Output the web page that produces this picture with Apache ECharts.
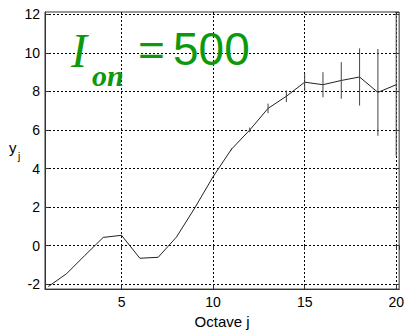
<!DOCTYPE html>
<html>
<head>
<meta charset="utf-8">
<script src="https://cdn.jsdelivr.net/npm/echarts@6/dist/echarts.min.js"></script>
<style>
  html, body { margin: 0; padding: 0; background: #fff; }
  #chart { width: 407px; height: 334px; }
</style>
</head>
<body>
<div id="chart"></div>
<script>
// Octave index j
const octave = [1, 2, 3, 4, 5, 6, 7, 8, 9, 10, 11, 12, 13, 14, 15, 16, 17, 18, 19, 20];
// Log-scale energy y_j per octave
const yj = [-2.12, -1.45, -0.5, 0.43, 0.54, -0.65, -0.6, 0.45, 1.96, 3.58,
            5.0, 6.0, 7.12, 7.75, 8.48, 8.35, 8.57, 8.75, 7.95, 8.35];
// Half-width of the confidence interval at each octave
const halfCI = [0, 0, 0, 0, 0, 0, 0, 0, 0, 0,
                0.05, 0.12, 0.25, 0.3, 0.45, 0.65, 0.95, 1.48, 2.25, 3.7];

const xRange = [0.82, 20.16];
const yRange = [-2.25, 12.12];

const lineData = octave.map((j, i) => [j, yj[i]]);
const barData = octave.map((j, i) => [j, yj[i] - halfCI[i], yj[i] + halfCI[i]]);

const GREEN = '#0c990c';
const INK = '#222';
const labelFont = { fontFamily: 'Liberation Sans, Arial, sans-serif', fontSize: 14, color: '#000' };

const grid = { left: 45, right: 4, top: 12, bottom: 40, show: true, borderColor: '#333', borderWidth: 1, backgroundColor: '#fff' };

const gridLine = { show: true, showMinLine: false, showMaxLine: false, lineStyle: { color: '#000', type: [2, 2], width: 1 } };
const intLabel = v => (Math.abs(v - Math.round(v)) < 1e-9 ? String(v) : '');

const chart = echarts.init(document.getElementById('chart'), null, { renderer: 'svg' });
chart.setOption({
  animation: false,
  grid: grid,
  xAxis: [
    {
      type: 'value', min: xRange[0], max: xRange[1], splitNumber: 4, position: 'bottom',
      axisLine: { show: true, onZero: false, lineStyle: { color: '#333', width: 1 } },
      axisTick: { show: true, inside: true, length: 4, lineStyle: { color: '#333' } },
      axisLabel: Object.assign({ margin: 6, showMinLabel: false, showMaxLabel: false, formatter: intLabel }, labelFont),
      splitLine: gridLine,
      name: 'Octave j', nameLocation: 'middle', nameGap: 24,
      nameTextStyle: { fontFamily: 'Liberation Sans, Arial, sans-serif', fontSize: 15, color: '#000' }
    },
    {
      type: 'value', min: xRange[0], max: xRange[1], splitNumber: 4, position: 'top',
      axisLine: { show: false },
      axisTick: { show: true, inside: true, length: 4, lineStyle: { color: '#333' } },
      axisLabel: { show: false }, splitLine: { show: false }
    }
  ],
  yAxis: [
    {
      type: 'value', min: yRange[0], max: yRange[1], splitNumber: 7, position: 'left',
      axisLine: { show: true, onZero: false, lineStyle: { color: '#333', width: 1 } },
      axisTick: { show: true, inside: true, length: 4, lineStyle: { color: '#333' } },
      axisLabel: Object.assign({ margin: 5, showMinLabel: false, showMaxLabel: false, formatter: intLabel }, labelFont),
      splitLine: gridLine
    },
    {
      type: 'value', min: yRange[0], max: yRange[1], splitNumber: 7, position: 'right',
      axisLine: { show: false },
      axisTick: { show: true, inside: true, length: 4, lineStyle: { color: '#333' } },
      axisLabel: { show: false }, splitLine: { show: false }
    }
  ],
  graphic: [
    { type: 'text', left: 9, top: 140, style: { text: 'y', font: '15px "Liberation Sans", Arial, sans-serif', fill: '#000' } },
    { type: 'text', left: 18, top: 151, style: { text: 'j', font: '10px "Liberation Sans", Arial, sans-serif', fill: '#000' } },
    { type: 'text', left: 71, top: 26, z: 10, style: { text: 'I', font: 'italic 48px "Liberation Serif", "DejaVu Serif", serif', fill: GREEN } },
    { type: 'text', left: 92, top: 60, z: 10, style: { text: 'on', font: 'italic bold 30px "Liberation Serif", "DejaVu Serif", serif', fill: GREEN } },
    { type: 'text', left: 138, top: 27, z: 10, style: { text: '=', font: '46px "Liberation Sans", Arial, sans-serif', fill: GREEN } },
    { type: 'text', left: 173, top: 26, z: 10, style: { text: '500', font: '46px "Liberation Sans", Arial, sans-serif', fill: GREEN } }
  ],
  series: [
    {
      type: 'line', data: lineData, xAxisIndex: 0, yAxisIndex: 0,
      showSymbol: false, lineStyle: { color: INK, width: 1 }, z: 3
    },
    {
      type: 'custom', data: barData, xAxisIndex: 0, yAxisIndex: 0, z: 4,
      renderItem: function (params, api) {
        const lo = api.coord([api.value(0), api.value(1)]);
        const hi = api.coord([api.value(0), api.value(2)]);
        return {
          type: 'line',
          shape: { x1: lo[0], y1: lo[1], x2: hi[0], y2: hi[1] },
          style: { stroke: '#444', lineWidth: 1 }
        };
      }
    }
  ]
});
</script>
</body>
</html>
